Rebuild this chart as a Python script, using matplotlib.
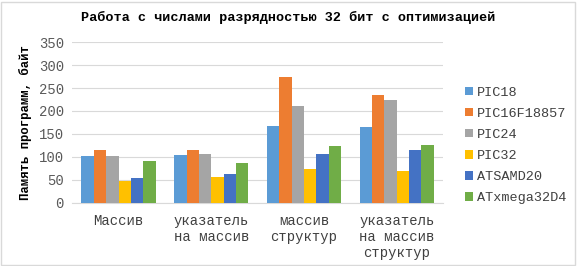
import numpy as np
import matplotlib
matplotlib.use('Agg')
import matplotlib.pyplot as plt
from matplotlib.patches import Rectangle

categories = ['Массив', 'указатель\nна массив', 'массив\nструктур', 'указатель\nна массив\nструктур']
series_names = ['PIC18', 'PIC16F18857', 'PIC24', 'PIC32', 'ATSAMD20', 'ATxmega32D4']
pic18 = [103, 105, 168, 165]
pic16f = [115, 115, 273, 235]
pic24 = [103, 106, 210, 223]
pic32 = [47, 57, 73, 69]
atsamd20 = [55, 63, 106, 115]
atxmega = [92, 87, 124, 127]
colors = ['#5B9BD5', '#ED7D31', '#A5A5A5', '#FFC000', '#4472C4', '#70AD47']

series = [pic18, pic16f, pic24, pic32, atsamd20, atxmega]

plt.rcParams['font.family'] = ['Liberation Mono', 'DejaVu Sans']

fig = plt.figure(figsize=(5.77, 2.66), dpi=100)
ax = fig.add_axes([0.125, 0.237, 0.643, 0.605])

x = np.arange(len(categories))
n = len(series)
w = 0.8 / n
for i, (vals, name, c) in enumerate(zip(series, series_names, colors)):
    ax.bar(x - 0.4 + w * (i + 0.5), vals, width=w, color=c, label=name, zorder=3)

ax.set_xlim(-0.5, len(categories) - 0.5)
ax.set_ylim(0, 350)
ax.set_yticks(np.arange(0, 351, 50))
ax.set_xticks(x)
ax.set_xticklabels(categories, fontsize=10, color='#404040', linespacing=1.2)
ax.tick_params(axis='y', labelsize=10, labelcolor='#595959', length=0, pad=6)
ax.tick_params(axis='x', length=0, pad=8)
ax.grid(axis='y', color='#D9D9D9', linewidth=0.8, zorder=0)
for s in ['top', 'right', 'left']:
    ax.spines[s].set_visible(False)
ax.spines['bottom'].set_color('#D9D9D9')

ax.set_ylabel('Память программ, байт', fontsize=8.8, fontweight='bold', labelpad=5)
fig.suptitle('Работа с числами разрядностью 32 бит с оптимизацией',
             fontsize=9.7, fontweight='bold', x=0.5, y=0.96)

ax.legend(loc='center left', bbox_to_anchor=(0.796, 0.453), bbox_transform=fig.transFigure,
          frameon=False, fontsize=9.7, handlelength=0.6, handleheight=0.6,
          handletextpad=0.3, labelspacing=0.68, borderaxespad=0, labelcolor='#404040')

fig.patches.append(Rectangle((0.002, 0.004), 0.995, 0.99, transform=fig.transFigure,
                             fill=False, edgecolor='#D9D9D9', linewidth=1))

fig.savefig('out.png', dpi=100)
